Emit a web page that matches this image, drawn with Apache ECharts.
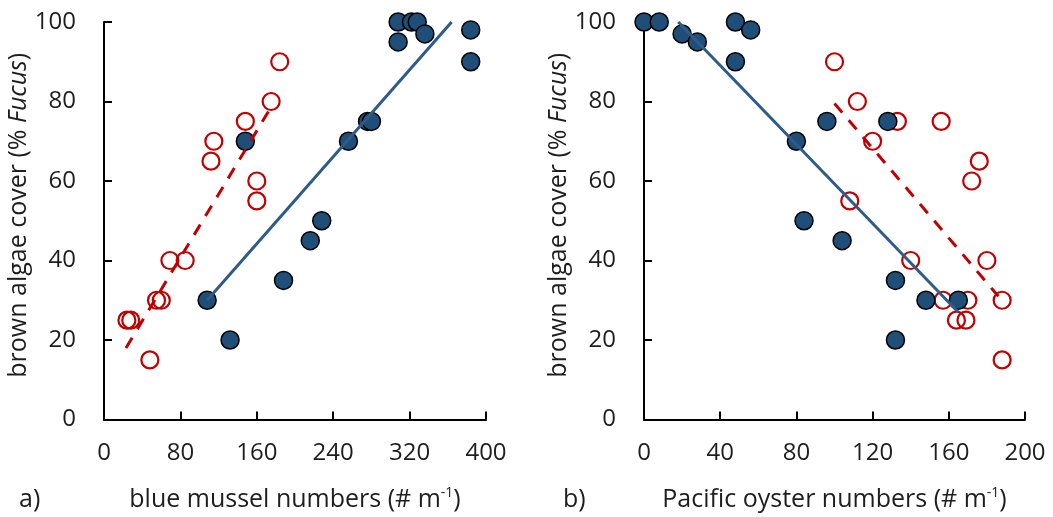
<!DOCTYPE html>
<html>
<head>
    <meta charset="utf-8">
    <title>Fucus cover vs mussels and oysters</title>
    <script src="https://cdn.jsdelivr.net/npm/echarts@6/dist/echarts.min.js"></script>
</head>
<body style="margin:0">
<div id="main" style="width:1053px;height:517px;"></div>
<script type="text/javascript">
    // a) blue mussels - filled blue points
    var musselBlueX = [108, 132, 148, 188, 216, 228, 256, 276, 280, 308, 308, 322, 328, 336, 384, 384];
    var musselBlueY = [30, 20, 70, 35, 45, 50, 70, 75, 75, 100, 95, 100, 100, 97, 98, 90];
    // a) open red points
    var musselRedX = [24, 28, 48, 55, 60, 69, 85, 112, 115, 148, 160, 160, 175, 184];
    var musselRedY = [25, 25, 15, 30, 30, 40, 40, 65, 70, 75, 60, 55, 80, 90];
    // a) trend lines (end points)
    var musselBlueFitX = [108, 364];
    var musselBlueFitY = [30, 100];
    var musselRedFitX = [23, 176];
    var musselRedFitY = [18, 79];

    // b) pacific oysters - filled blue points
    var oysterBlueX = [0, 8, 20, 28, 48, 48, 56, 80, 84, 96, 104, 128, 132, 132, 148, 165];
    var oysterBlueY = [100, 100, 97, 95, 100, 90, 98, 70, 50, 75, 45, 75, 35, 20, 30, 30];
    // b) open red points
    var oysterRedX = [100, 112, 120, 133, 156, 176, 172, 108, 140, 180, 157, 170, 188, 164, 169, 188];
    var oysterRedY = [90, 80, 70, 75, 75, 65, 60, 55, 40, 40, 30, 30, 30, 25, 25, 15];
    // b) trend lines (end points)
    var oysterBlueFitX = [18, 165];
    var oysterBlueFitY = [100, 27];
    var oysterRedFitX = [100, 186];
    var oysterRedFitY = [79.5, 31];

    function pairs(xs, ys) {
        return xs.map(function (x, i) { return [x, ys[i]]; });
    }

    var FONT = 'Open Sans';
    var BLUE = '#1f4e79';
    var BLUE_LINE = '#2e5b88';
    var RED = '#c00000';
    var TEXT = '#1e1e1e';

    var axisLineStyle = { lineStyle: { color: '#000', width: 2 } };
    var tickStyle = { show: true, inside: true, length: 8, lineStyle: { color: '#000', width: 2 } };
    var labelStyle = { color: TEXT, fontFamily: FONT, fontSize: 24 };

    function xAxis(idx, max, step, title) {
        return {
            type: 'value', gridIndex: idx, min: 0, max: max, interval: step,
            axisLine: axisLineStyle, axisTick: tickStyle, splitLine: { show: false },
            axisLabel: Object.assign({ margin: 22 }, labelStyle),
            name: title, nameLocation: 'middle', nameGap: 67,
            nameTextStyle: {
                rich: {
                    n: { fontFamily: FONT, fontSize: 25, color: TEXT },
                    s: { fontFamily: FONT, fontSize: 14, color: TEXT, verticalAlign: 'top', padding: [0, 0, 12, 0] }
                }
            }
        };
    }

    function yAxis(idx) {
        return {
            type: 'value', gridIndex: idx, min: 0, max: 100, interval: 20,
            axisLine: axisLineStyle, axisTick: tickStyle, splitLine: { show: false },
            axisLabel: Object.assign({ margin: 28 }, labelStyle),
            name: '{n|brown algae cover (% }{i|Fucus}{n|)}',
            nameLocation: 'middle', nameGap: 65, nameRotate: 90,
            nameTextStyle: {
                padding: [0, 0, 0, 11],
                rich: {
                    n: { fontFamily: FONT, fontSize: 25, color: TEXT },
                    i: { fontFamily: FONT, fontSize: 25, color: TEXT, fontStyle: 'italic' }
                }
            }
        };
    }

    function openSeries(idx, xs, ys) {
        return {
            type: 'scatter', xAxisIndex: idx, yAxisIndex: idx, clip: false,
            data: pairs(xs, ys), symbolSize: 17, z: 2,
            itemStyle: { color: 'rgba(255,255,255,0)', borderColor: RED, borderWidth: 2.2, opacity: 1 }
        };
    }
    function filledSeries(idx, xs, ys) {
        return {
            type: 'scatter', xAxisIndex: idx, yAxisIndex: idx, clip: false,
            data: pairs(xs, ys), symbolSize: 18, z: 3,
            itemStyle: { color: BLUE, borderColor: '#000', borderWidth: 1.5, opacity: 1 }
        };
    }
    function fitSeries(idx, xs, ys, color, dashed) {
        return {
            type: 'line', xAxisIndex: idx, yAxisIndex: idx, clip: false,
            data: pairs(xs, ys), symbol: 'none', z: 4, silent: true,
            lineStyle: { color: color, width: 3, type: dashed ? [12, 10] : 'solid' }
        };
    }

    var myChart = echarts.init(document.getElementById('main'));

    var option = {
        backgroundColor: '#fff',
        animation: false,
        grid: [
            { left: 104, top: 22, width: 382, height: 400 },
            { left: 644, top: 22, width: 381, height: 400 }
        ],
        xAxis: [
            xAxis(0, 400, 80, '{n|blue mussel numbers (# m}{s|-1}{n|)}'),
            xAxis(1, 200, 40, '{n|Pacific oyster numbers (# m}{s|-1}{n|)}')
        ],
        yAxis: [yAxis(0), yAxis(1)],
        graphic: [
            { type: 'text', left: 19, top: 487, style: { text: 'a)', fontFamily: FONT, fontSize: 25, fill: TEXT } },
            { type: 'text', left: 563, top: 487, style: { text: 'b)', fontFamily: FONT, fontSize: 25, fill: TEXT } }
        ],
        series: [
            openSeries(0, musselRedX, musselRedY),
            filledSeries(0, musselBlueX, musselBlueY),
            fitSeries(0, musselBlueFitX, musselBlueFitY, BLUE_LINE, false),
            fitSeries(0, musselRedFitX, musselRedFitY, RED, true),
            openSeries(1, oysterRedX, oysterRedY),
            filledSeries(1, oysterBlueX, oysterBlueY),
            fitSeries(1, oysterBlueFitX, oysterBlueFitY, BLUE_LINE, false),
            fitSeries(1, oysterRedFitX, oysterRedFitY, RED, true)
        ]
    };

    myChart.setOption(option);
</script>
</body>
</html>
